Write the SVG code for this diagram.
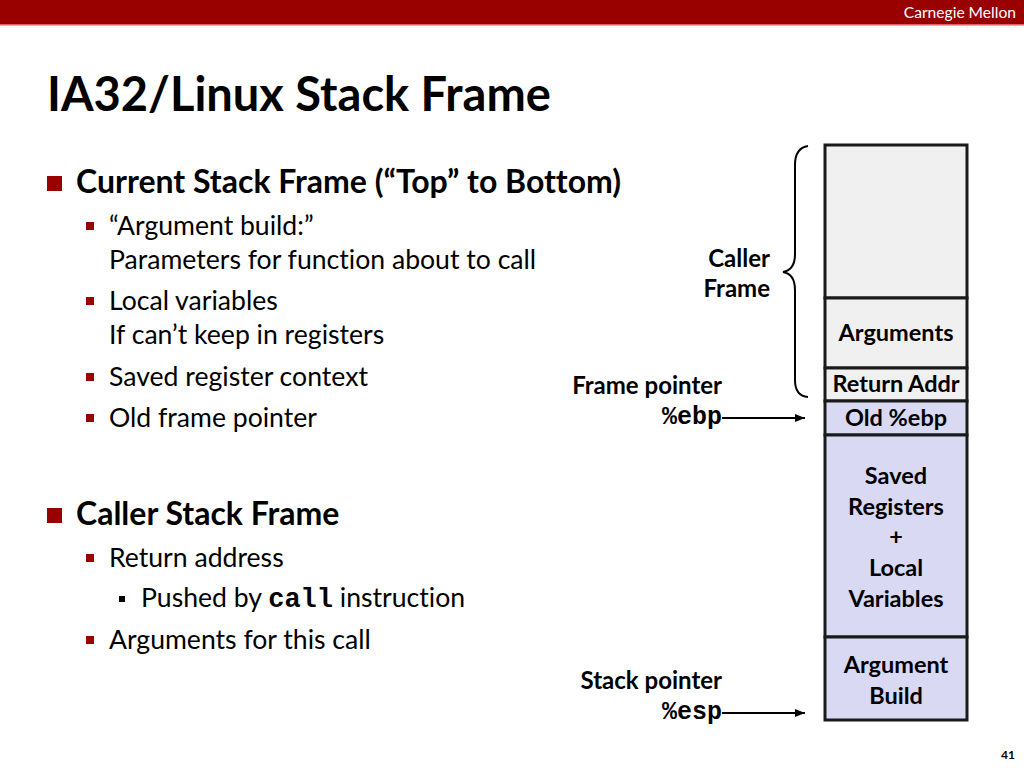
<svg xmlns="http://www.w3.org/2000/svg" width="1024" height="768" viewBox="0 0 1024 768">
<defs>
<style>
.t{font-family:Lato,"Open Sans","Liberation Sans",sans-serif;fill:#000;font-variant-ligatures:none}
.b{font-weight:bold}
.m{font-family:"Liberation Mono","Courier New",monospace;font-weight:bold}
.box{stroke:#1a1a1a;stroke-width:3}
.grey{fill:#f0f0f0}
.lav{fill:#d9d9f4}
.lbl{font-family:Lato,"Open Sans","Liberation Sans",sans-serif;font-weight:bold;font-size:23.5px;text-anchor:middle}
.side{font-family:Lato,"Open Sans","Liberation Sans",sans-serif;font-weight:bold;font-size:24px;text-anchor:end}
.l1{font-size:32px;font-weight:bold}
.l2{font-size:26.6px}
.red{fill:#990000}
</style>
<marker id="ah" viewBox="0 0 10 10" refX="10" refY="5" markerWidth="10" markerHeight="10" markerUnits="userSpaceOnUse" orient="auto">
<path d="M0,1 L10,5 L0,9 z" fill="#000"/>
</marker>
</defs>
<rect x="0" y="0" width="1024" height="768" fill="#fff"/>
<rect x="0" y="0" width="1024" height="24" fill="#990000"/>
<rect x="0" y="24" width="1024" height="1.5" fill="#e06060"/>
<text x="1016" y="18" class="t" font-size="15.6" text-anchor="end" style="fill:#fff">Carnegie Mellon</text>
<text x="47" y="111" class="t b" font-size="47">IA32/Linux Stack Frame</text>

<g id="bullets">
<rect x="47" y="176" width="15" height="15" class="red"/>
<text x="76" y="193" class="t l1">Current Stack Frame (“Top” to Bottom)</text>
<rect x="86" y="222" width="8" height="8" class="red"/>
<text x="109" y="235" class="t l2">“Argument build:”</text>
<text x="109" y="269" class="t l2">Parameters for function about to call</text>
<rect x="86" y="297" width="8" height="8" class="red"/>
<text x="109" y="310" class="t l2">Local variables</text>
<text x="109" y="344" class="t l2">If can’t keep in registers</text>
<rect x="86" y="373" width="8" height="8" class="red"/>
<text x="109" y="386" class="t l2">Saved register context</text>
<rect x="86" y="414" width="8" height="8" class="red"/>
<text x="109" y="427" class="t l2">Old frame pointer</text>
<rect x="47" y="508" width="15" height="15" class="red"/>
<text x="76" y="525" class="t l1">Caller Stack Frame</text>
<rect x="86" y="554" width="8" height="8" class="red"/>
<text x="109" y="567" class="t l2">Return address</text>
<rect x="119" y="596" width="6" height="6" fill="#000"/>
<text x="141" y="607" class="t l2">Pushed by <tspan class="m" font-size="27">call</tspan> instruction</text>
<rect x="86" y="636" width="8" height="8" class="red"/>
<text x="109" y="649" class="t l2">Arguments for this call</text>
</g>

<g id="caller-frame-top"><rect x="825" y="145" width="142" height="153" class="box grey"/></g>
<g id="arguments"><rect x="825" y="298" width="142" height="70" class="box grey"/><text x="896" y="341" class="lbl">Arguments</text></g>
<g id="return-addr"><rect x="825" y="368" width="142" height="33" class="box grey"/><text x="896" y="392" class="lbl">Return Addr</text></g>
<g id="old-ebp"><rect x="825" y="401" width="142" height="34" class="box lav"/><text x="896" y="426" class="lbl">Old %ebp</text></g>
<g id="saved-regs"><rect x="825" y="435" width="142" height="202" class="box lav"/>
<text x="896" y="484" class="lbl">Saved</text><text x="896" y="515" class="lbl">Registers</text><text x="896" y="545" class="lbl">+</text><text x="896" y="576" class="lbl">Local</text><text x="896" y="607" class="lbl">Variables</text></g>
<g id="arg-build"><rect x="825" y="637" width="142" height="83" class="box lav"/><text x="896" y="673" class="lbl">Argument</text><text x="896" y="704" class="lbl">Build</text></g>

<g id="caller-label"><text x="770" y="267" class="side">Caller</text><text x="770" y="297" class="side">Frame</text></g>
<g id="frame-pointer"><text x="722" y="394" class="side">Frame pointer</text><text x="722" y="424" class="m" font-size="25" text-anchor="end">%ebp</text></g>
<g id="stack-pointer"><text x="722" y="689" class="side">Stack pointer</text><text x="722" y="719" class="m" font-size="25" text-anchor="end">%esp</text></g>

<g id="connectors" fill="none" stroke="#000" stroke-width="2">
<path d="M808,146 Q795,148 795,165 L795,254 Q795,270 783,272 Q795,274 795,290 L795,380 Q795,396 808,397"/>
<line x1="722" y1="418" x2="805" y2="418" marker-end="url(#ah)"/>
<line x1="722" y1="713" x2="805" y2="713" marker-end="url(#ah)"/>
</g>
<text x="1015" y="759" class="t b" font-size="12" text-anchor="end">41</text>
</svg>
